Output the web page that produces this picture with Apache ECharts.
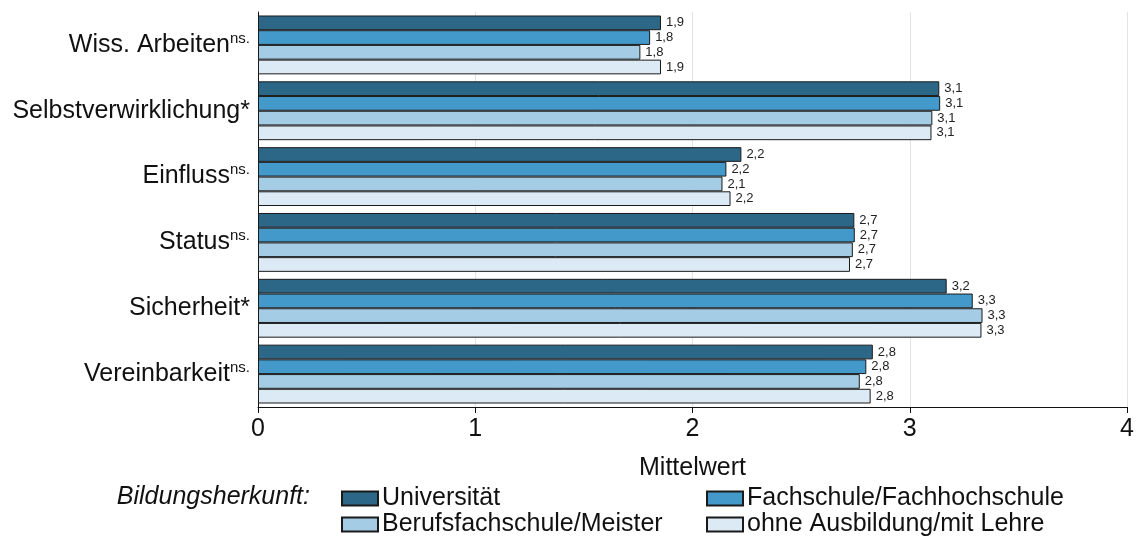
<!DOCTYPE html>
<html>
<head>
<meta charset="utf-8">
<script src="https://cdn.jsdelivr.net/npm/echarts@6/dist/echarts.min.js"></script>
<style>html,body{margin:0;padding:0;background:#fff;}#c{width:1138px;height:543px;}</style>
</head>
<body>
<div id="c"></div>
<script>
const categories = ['Wiss. Arbeiten', 'Selbstverwirklichung', 'Einfluss', 'Status', 'Sicherheit', 'Vereinbarkeit'];
const significance = ['ns.', '*', 'ns.', 'ns.', '*', 'ns.'];
const seriesNames = ['Universität', 'Fachschule/Fachhochschule', 'Berufsfachschule/Meister', 'ohne Ausbildung/mit Lehre'];
const universitaet = [1.855, 3.136, 2.225, 2.745, 3.17, 2.83];
const fachschule = [1.805, 3.14, 2.156, 2.747, 3.29, 2.80];
const berufsfachschule = [1.76, 3.104, 2.138, 2.738, 3.335, 2.77];
const ohneAusbildung = [1.855, 3.10, 2.175, 2.725, 3.33, 2.82];
const xTicks = [0, 1, 2, 3, 4];

const colors = ['#2d6788', '#4499cb', '#a4cde5', '#dbeaf5'];
const seriesData = [universitaet, fachschule, berufsfachschule, ohneAusbildung];
const FONT = '"Liberation Sans", Arial, sans-serif';

const chart = echarts.init(document.getElementById('c'), null, {renderer: 'canvas'});

const series = seriesNames.map((name, i) => ({
  name: name,
  type: 'bar',
  data: seriesData[i],
  barGap: '0%',
  barCategoryGap: '10.6%',
  itemStyle: {color: colors[i], borderColor: '#1a1a1a', borderWidth: 1},
  label: {
    show: true,
    position: 'right',
    distance: 5,
    fontFamily: FONT,
    fontSize: 13,
    color: '#222',
    formatter: p => p.value.toFixed(1).replace('.', ',')
  },
  emphasis: {disabled: true},
  animation: false
}));

const legendPos = [[341, 486], [706, 486], [341, 512], [706, 512]];
const legends = seriesNames.map((name, i) => ({
  data: [name],
  left: legendPos[i][0],
  top: legendPos[i][1],
  padding: 0,
  icon: 'rect',
  itemWidth: 36,
  itemHeight: 14,
  itemGap: 6,
  selectedMode: false,
  textStyle: {fontFamily: FONT, fontSize: 25, color: '#111', padding: [0, 0, 0, -1]}
}));

chart.setOption({
  animation: false,
  backgroundColor: '#fff',
  grid: {left: 258, right: 11, top: 12, height: 395, containLabel: false},
  xAxis: {
    type: 'value',
    min: xTicks[0],
    max: xTicks[xTicks.length - 1],
    interval: 1,
    name: 'Mittelwert',
    nameLocation: 'middle',
    nameGap: 49,
    nameTextStyle: {fontFamily: FONT, fontSize: 25, color: '#111'},
    axisLine: {show: true, lineStyle: {color: '#111', width: 1}},
    axisTick: {show: true, length: 6, lineStyle: {color: '#111'}},
    axisLabel: {fontFamily: FONT, fontSize: 25, color: '#111', margin: 10, formatter: v => String(v)},
    splitLine: {show: true, lineStyle: {color: '#e3e3e3', width: 1}}
  },
  yAxis: {
    type: 'category',
    data: categories,
    inverse: true,
    axisLine: {show: true, lineStyle: {color: '#111', width: 1}},
    axisTick: {show: false},
    axisLabel: {
      margin: 8,
      formatter: (v) => {
        const s = significance[categories.indexOf(v)];
        return s === '*' ? '{a|' + v + '*}' : '{a|' + v + '}{s|' + s + '}';
      },
      rich: {
        a: {fontFamily: FONT, fontSize: 25, color: '#111', lineHeight: 28},
        s: {fontFamily: FONT, fontSize: 15, color: '#111', verticalAlign: 'top', lineHeight: 28, padding: [0, 0, 8, 0]}
      }
    },
    splitLine: {show: false}
  },
  legend: legends,
  graphic: [{
    type: 'text',
    right: 1138 - 310,
    top: 485,
    style: {text: 'Bildungsherkunft:', fontFamily: FONT, fontSize: 25, fontStyle: 'italic', fill: '#111', textAlign: 'right'}
  }],
  series: series
});
</script>
</body>
</html>
